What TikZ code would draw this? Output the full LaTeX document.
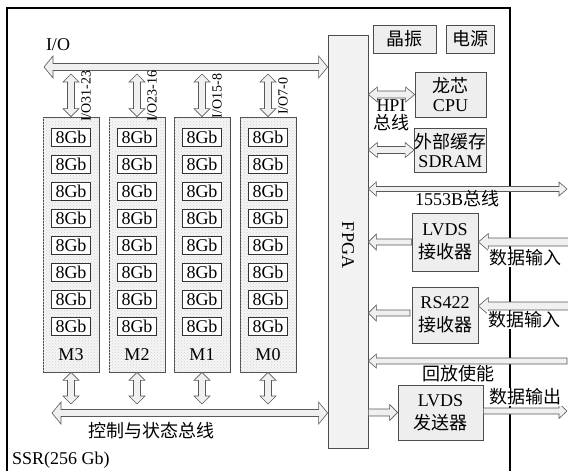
\documentclass[tikz,border=0pt]{standalone}
\usepackage{fontspec}
\setmainfont{Liberation Serif}
\newfontfamily\cjk{Noto Sans CJK SC}
\usetikzlibrary{calc,patterns}
\newcommand\txtA{\fontsize{18}{19}\selectfont}
\newcommand\txtC{\fontsize{18}{23}\selectfont}
\newcommand\txtB{\fontsize{14}{15}\selectfont}
% horizontal double arrow: #1 -> #2, shaft half width #3, head half width #4, head length #5
\newcommand\hdbl[5]{\filldraw[barrow] let \p1=(#1), \p2=(#2), \n1={(\x2>\x1)*2-1} in
 (\x1,\y1) -- ({\x1+(\n1)*#5pt},{\y1+#4pt}) -- ({\x1+(\n1)*#5pt},{\y1+#3pt}) -- ({\x2-(\n1)*#5pt},{\y1+#3pt}) -- ({\x2-(\n1)*#5pt},{\y1+#4pt}) -- (\x2,\y1) -- ({\x2-(\n1)*#5pt},{\y1-#4pt}) -- ({\x2-(\n1)*#5pt},{\y1-#3pt}) -- ({\x1+(\n1)*#5pt},{\y1-#3pt}) -- ({\x1+(\n1)*#5pt},{\y1-#4pt}) -- cycle;}
% vertical double arrow
\newcommand\vdbl[5]{\filldraw[barrow] let \p1=(#1), \p2=(#2), \n1={(\y2>\y1)*2-1} in
 (\x1,\y1) -- ({\x1+#4pt},{\y1+(\n1)*#5pt}) -- ({\x1+#3pt},{\y1+(\n1)*#5pt}) -- ({\x1+#3pt},{\y2-(\n1)*#5pt}) -- ({\x1+#4pt},{\y2-(\n1)*#5pt}) -- (\x1,\y2) -- ({\x1-#4pt},{\y2-(\n1)*#5pt}) -- ({\x1-#3pt},{\y2-(\n1)*#5pt}) -- ({\x1-#3pt},{\y1+(\n1)*#5pt}) -- ({\x1-#4pt},{\y1+(\n1)*#5pt}) -- cycle;}
% horizontal single arrow: tail #1, tip #2
\newcommand\hsgl[5]{\filldraw[barrow] let \p1=(#1), \p2=(#2), \n1={(\x2>\x1)*2-1} in
 (\x1,{\y1+#3pt}) -- ({\x2-(\n1)*#5pt},{\y1+#3pt}) -- ({\x2-(\n1)*#5pt},{\y1+#4pt}) -- (\x2,\y1) -- ({\x2-(\n1)*#5pt},{\y1-#4pt}) -- ({\x2-(\n1)*#5pt},{\y1-#3pt}) -- (\x1,{\y1-#3pt}) -- cycle;}
\begin{document}
\begin{tikzpicture}[x=1pt,y=-1pt,
 frame/.style={line width=1.8pt},
 box/.style={draw=black!70, line width=0.7pt, fill=gray!13, inner sep=0pt, align=center, font=\txtA},
 module/.style={draw=black!70, line width=0.7pt, fill=gray!8, postaction={pattern=crosshatch dots, pattern color=gray!35}, inner sep=0pt, minimum width=56pt, minimum height=255pt},
 cell/.style={draw=black!80, line width=0.6pt, fill=white, minimum width=39pt, minimum height=18pt, inner sep=0pt, font=\txtA},
 lbl/.style={font=\txtA, inner sep=1pt},
 wlbl/.style={lbl, fill=white},
 vlbl/.style={font=\txtB, rotate=90, inner sep=0pt},
 barrow/.style={draw=black!65, fill=gray!12, line width=0.6pt, line join=miter}]
\useasboundingbox (0,0) rectangle (568,471);
\fill[white] (0,0) rectangle (568,471);
% frame
\draw[frame] (7,472) -- (7,8) -- (510,8) -- (510,472);
% FPGA and side boxes
\node[box, fill=gray!10, minimum width=40pt, minimum height=413pt] (fpga) at (348,241.5) {};
\node[rotate=-90, font=\txtA] (fpgat) at (348,245) {FPGA};
\node[box, minimum width=63pt, minimum height=28pt] (xtal) at (404.5,39) {\cjk 晶振};
\node[box, minimum width=48pt, minimum height=28pt] (pwr) at (470,39) {\cjk 电源};
\node[box, minimum width=71pt, minimum height=45pt] (cpu) at (450.5,94.5) {{\cjk 龙芯}\\CPU};
\node[box, minimum width=71pt, minimum height=44pt] (sdram) at (450.5,150) {{\cjk 外部缓存}\\SDRAM};
\node[box, font=\txtC, minimum width=66pt, minimum height=58pt] (lrx) at (445,242) {LVDS\\{\cjk 接收器}};
\node[box, font=\txtC, minimum width=66pt, minimum height=56pt] (rrx) at (445,315) {RS422\\{\cjk 接收器}};
\node[box, font=\txtC, minimum width=85pt, minimum height=55pt] (ltx) at (440.5,412.5) {LVDS\\{\cjk 发送器}};
% memory modules
\foreach \m/\x/\t in {m3/71/M3, m2/137/M2, m1/202/M1, m0/268/M0}{
  \node[module] (\m) at (\x,244.5) {};
  \foreach \k in {0,...,7}
    \node[cell] (\m c\k) at ({\x},{137+27*\k}) {8Gb};
  \node[lbl] (\m l) at (\x,355) {\t};
}
% I/O bus
\coordinate (iol) at (44,67);
\hdbl{iol}{fpga.west |- iol}{3.5}{11}{9}
\node[lbl] (io) at (58,45) {I/O};
\foreach \m/\x/\t in {m3/71/{I/O31-23}, m2/137/{I/O23-16}, m1/202/{I/O15-8}, m0/268/{I/O7-0}}{
  \coordinate (\m t) at (\x,74);
  \vdbl{\m t}{\m.north}{3.5}{8}{8}
  \node[vlbl, anchor=south] (\m v) at (\x+20,96) {\t};
  \coordinate (\m b) at (\x,404);
  \vdbl{\m.south}{\m b}{3.5}{8}{8}
}
% control bus
\coordinate (cbl) at (52,413);
\hdbl{cbl}{fpga.west |- cbl}{3.5}{11}{9}
\node[lbl] (cbt) at (151,431) {\cjk 控制与状态总线};
\node[lbl, anchor=west] (ssr) at (11,460) {SSR(256 Gb)};
% right side connections
\hdbl{fpga.east |- cpu}{cpu.west}{3.5}{7.5}{9}
\node[lbl, align=center, font=\fontsize{18}{18}\selectfont] (hpi) at (391,115) {HPI\\{\cjk 总线}};
\hdbl{fpga.east |- sdram}{sdram.west}{3.5}{7.5}{9}
\coordinate (b1553) at (567,189);
\hdbl{fpga.east |- b1553}{b1553}{2.5}{7}{8}
\node[lbl] (t1553) at (457,199) {1553B{\cjk 总线}};
\hsgl{lrx.west}{fpga.east |- lrx.west}{3}{8}{8}
\coordinate (din1) at (569,242);
\hsgl{din1}{lrx.east}{4}{8.5}{10}
\node[wlbl] (tdin1) at (525,258) {\cjk 数据输入};
\coordinate (rrxo) at (410,313);
\hsgl{rrxo}{fpga.east |- rrxo}{3}{8}{8}
\coordinate (din2) at (569,306);
\hsgl{din2}{rrx.east |- din2}{4}{8.5}{10}
\node[wlbl] (tdin2) at (524,320) {\cjk 数据输入};
\coordinate (pbe) at (567,361);
\hsgl{pbe}{fpga.east |- pbe}{3}{7}{8}
\node[wlbl] (tpbe) at (458,374) {\cjk 回放使能};
\hsgl{fpga.east |- ltx.west}{ltx.west}{3.5}{8}{8}
\coordinate (dout) at (567,411);
\hsgl{ltx.east |- dout}{dout}{3}{7.5}{8}
\node[wlbl] (tdout) at (525,397) {\cjk 数据输出};
\end{tikzpicture}
\end{document}
